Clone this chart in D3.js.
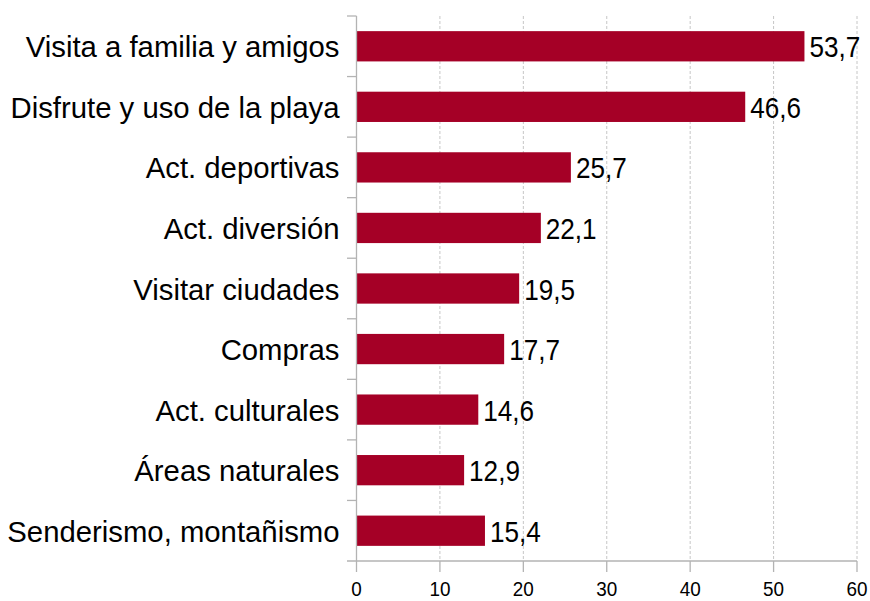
<!DOCTYPE html>
<html>
<head>
<meta charset="utf-8">
<script src="https://cdn.jsdelivr.net/npm/d3@7"></script>
<style>
  html, body { margin: 0; padding: 0; background: #fff; }
  svg { display: block; font-family: "Liberation Sans", Arial, sans-serif; }
</style>
</head>
<body>
<svg id="chart" width="870" height="601"></svg>
<script>
/* ---------- data ---------- */
const categories = [
  "Visita a familia y amigos",
  "Disfrute y uso de la playa",
  "Act. deportivas",
  "Act. diversión",
  "Visitar ciudades",
  "Compras",
  "Act. culturales",
  "Áreas naturales",
  "Senderismo, montañismo",
];
const values = [53.7, 46.6, 25.7, 22.1, 19.5, 17.7, 14.6, 12.9, 15.4];
const xTicks = [0, 10, 20, 30, 40, 50, 60];

const rows = categories.map((c, i) => ({ cat: c, val: values[i] }));

/* ---------- layout ---------- */
const svg = d3.select("#chart");
const plotL = 356.5, plotR = 857, plotT = 16, plotB = 561;
const barColor = "#a50026";
const axisColor = "#b3b3b3";

const x = d3.scaleLinear().domain([0, 60]).range([plotL, plotR]);
const y = d3.scaleBand().domain(categories).range([plotT, plotB]).paddingInner(0.5).paddingOuter(0.25);
const step = y.step();
// band boundaries, where the y-axis tick marks sit
const bounds = d3.range(categories.length + 1).map((i) => plotT + i * step);

/* gridlines */
svg.append("g")
  .selectAll("line")
  .data(xTicks.slice(1))
  .join("line")
  .attr("x1", (d) => x(d)).attr("x2", (d) => x(d))
  .attr("y1", plotT).attr("y2", plotB)
  .attr("stroke", "#c6c6c6")
  .attr("stroke-width", 1)
  .attr("stroke-dasharray", "3,2");

/* bars */
svg.append("g")
  .selectAll("rect")
  .data(rows)
  .join("rect")
  .attr("x", x(0))
  .attr("y", (d) => y(d.cat))
  .attr("width", (d) => x(d.val) - x(0))
  .attr("height", y.bandwidth())
  .attr("fill", barColor);

/* axes */
const ax = svg.append("g").attr("stroke", axisColor).attr("stroke-width", 1.3);
ax.append("line").attr("x1", plotL).attr("x2", plotL).attr("y1", plotT).attr("y2", plotB);
ax.append("line").attr("x1", plotL - 9.5).attr("x2", plotR).attr("y1", plotB).attr("y2", plotB);
ax.selectAll("line.yt")
  .data(bounds.slice(0, -1))
  .join("line")
  .attr("class", "yt")
  .attr("x1", plotL - 9.5).attr("x2", plotL)
  .attr("y1", (d) => d).attr("y2", (d) => d);
ax.selectAll("line.xt")
  .data(xTicks)
  .join("line")
  .attr("class", "xt")
  .attr("x1", (d) => x(d)).attr("x2", (d) => x(d))
  .attr("y1", plotB).attr("y2", plotB + 11);

/* tick labels (slightly condensed, like the original) */
svg.append("g")
  .selectAll("text")
  .data(xTicks)
  .join("text")
  .attr("transform", (d) => `translate(${x(d)},596) scale(0.9,1)`)
  .attr("text-anchor", "middle")
  .style("font-size", "21px")
  .attr("fill", "#000")
  .text((d) => d);

/* category labels */
const mid = (d) => y(d.cat) + y.bandwidth() / 2;
svg.append("g")
  .selectAll("text")
  .data(rows)
  .join("text")
  .attr("x", 339.5)
  .attr("y", (d) => mid(d) + 11)
  .attr("text-anchor", "end")
  .style("font-size", "29.3px")
  .attr("fill", "#000")
  .text((d) => d.cat);

/* value labels */
svg.append("g")
  .selectAll("text")
  .data(rows)
  .join("text")
  .attr("transform", (d) => `translate(${x(d.val) + 5},${mid(d) + 11}) scale(0.87,1)`)
  .style("font-size", "30px")
  .attr("fill", "#000")
  .text((d) => d3.format(".1f")(d.val).replace(".", ","));
</script>
</body>
</html>
